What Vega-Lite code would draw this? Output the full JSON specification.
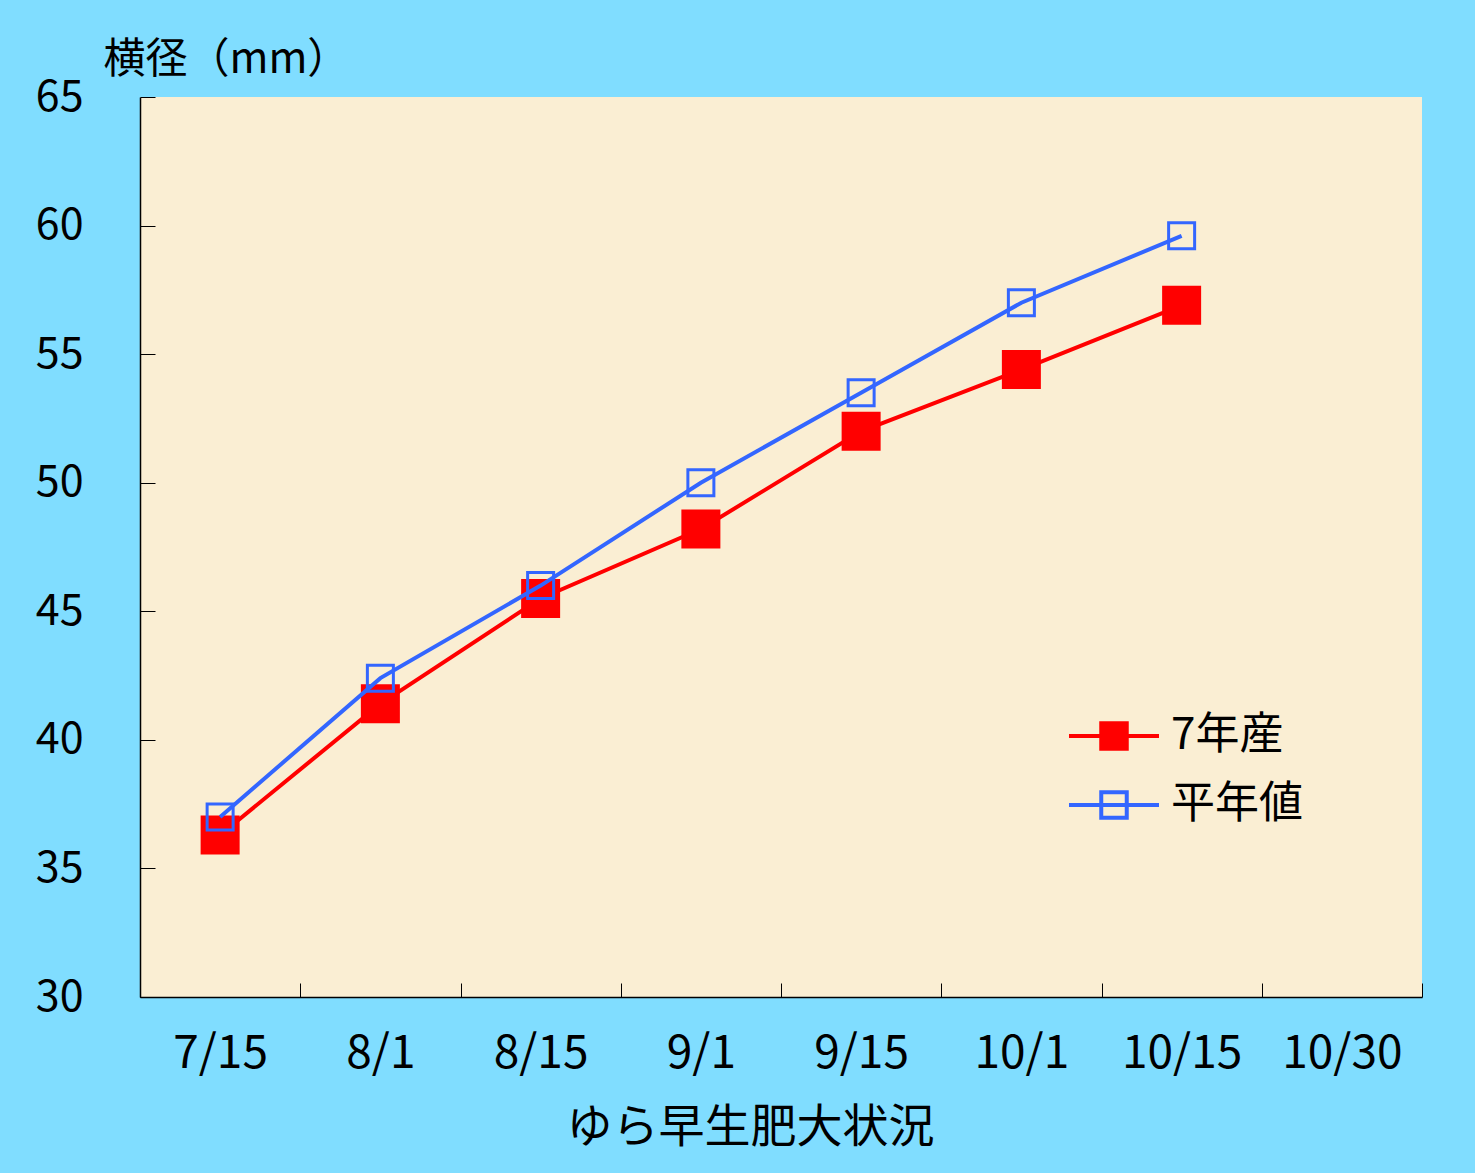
{
  "$schema": "https://vega.github.io/schema/vega-lite/v6.json",
  "width": 1282,
  "height": 900,
  "autosize": {"type": "none"},
  "padding": {"left": 140, "top": 97, "right": 53, "bottom": 176},
  "background": "#80DDFF",
  "config": {
    "view": {"stroke": null, "fill": "#FAEED3"},
    "font": "Noto Sans CJK JP"
  },
  "data": {
    "values": [
      {"date": "7/15", "series": "7年産", "value": 36.3},
      {"date": "8/1", "series": "7年産", "value": 41.4},
      {"date": "8/15", "series": "7年産", "value": 45.5},
      {"date": "9/1", "series": "7年産", "value": 48.2},
      {"date": "9/15", "series": "7年産", "value": 52.0},
      {"date": "10/1", "series": "7年産", "value": 54.4},
      {"date": "10/15", "series": "7年産", "value": 56.9},
      {"date": "7/15", "series": "平年値", "value": 37.0},
      {"date": "8/1", "series": "平年値", "value": 42.4},
      {"date": "8/15", "series": "平年値", "value": 46.0},
      {"date": "9/1", "series": "平年値", "value": 50.0},
      {"date": "9/15", "series": "平年値", "value": 53.5},
      {"date": "10/1", "series": "平年値", "value": 57.0},
      {"date": "10/15", "series": "平年値", "value": 59.6}
    ]
  },
  "encoding": {
    "x": {
      "field": "date",
      "type": "ordinal",
      "scale": {
        "type": "band",
        "domain": ["7/15", "8/1", "8/15", "9/1", "9/15", "10/1", "10/15", "10/30"],
        "paddingInner": 0,
        "paddingOuter": 0
      },
      "axis": {
        "title": "ゆら早生肥大状況",
        "labelAngle": 0,
        "tickBand": "extent",
        "tickSize": -14,
        "tickColor": "#000000",
        "tickWidth": 1,
        "domainColor": "#000000",
        "domainWidth": 1.5,
        "grid": false,
        "labelFontSize": 46,
        "labelColor": "#000000",
        "labelPadding": 48,
        "titleFontSize": 46,
        "titleFontWeight": "normal",
        "titleColor": "#000000",
        "titleX": 610,
        "titleY": 130,
        "titleAlign": "center",
        "titleBaseline": "middle"
      }
    },
    "y": {
      "field": "value",
      "type": "quantitative",
      "scale": {"domain": [30, 65], "nice": false, "zero": false},
      "axis": {
        "values": [30, 35, 40, 45, 50, 55, 60, 65],
        "title": "横径（mm）",
        "titleAngle": 0,
        "titleAlign": "left",
        "titleBaseline": "middle",
        "titleX": -37,
        "titleY": -38,
        "titleFontSize": 42,
        "titleFontWeight": "normal",
        "titleColor": "#000000",
        "tickSize": -15,
        "tickColor": "#000000",
        "tickWidth": 1,
        "domainColor": "#000000",
        "domainWidth": 1.5,
        "grid": false,
        "labelFontSize": 43,
        "labelColor": "#000000",
        "labelPadding": 72
      }
    }
  },
  "layer": [
    {
      "transform": [{"filter": "datum.series == '7年産'"}],
      "mark": {"type": "line", "strokeWidth": 4},
      "encoding": {
        "stroke": {
          "field": "series",
          "type": "nominal",
          "scale": {"domain": ["7年産", "平年値"], "range": ["#FF0000", "#3366FF"]},
          "legend": {
            "orient": "none",
            "legendX": 952,
            "legendY": 617,
            "title": null,
            "padding": 0,
            "symbolType": "M-3,0H3M-0.85,-0.85H0.85V0.85H-0.85Z",
            "symbolSize": 900,
            "symbolStrokeWidth": 4,
            "symbolOpacity": 1,
            "labelFontSize": 44,
            "labelColor": "#000000",
            "labelOffset": 35,
            "rowPadding": 25
          }
        }
      }
    },
    {
      "transform": [{"filter": "datum.series == '7年産'"}],
      "mark": {"type": "point", "shape": "square", "size": 1369, "strokeWidth": 2, "opacity": 1},
      "encoding": {
        "stroke": {"field": "series", "type": "nominal"},
        "fill": {
          "field": "series",
          "type": "nominal",
          "scale": {"domain": ["7年産", "平年値"], "range": ["#FF0000", "transparent"]}
        }
      }
    },
    {
      "transform": [{"filter": "datum.series == '平年値'"}],
      "mark": {"type": "line", "strokeWidth": 4},
      "encoding": {
        "stroke": {"field": "series", "type": "nominal"}
      }
    },
    {
      "transform": [{"filter": "datum.series == '平年値'"}],
      "mark": {"type": "point", "shape": "square", "size": 676, "strokeWidth": 3, "opacity": 1},
      "encoding": {
        "stroke": {"field": "series", "type": "nominal"},
        "fill": {"field": "series", "type": "nominal"}
      }
    }
  ]
}
